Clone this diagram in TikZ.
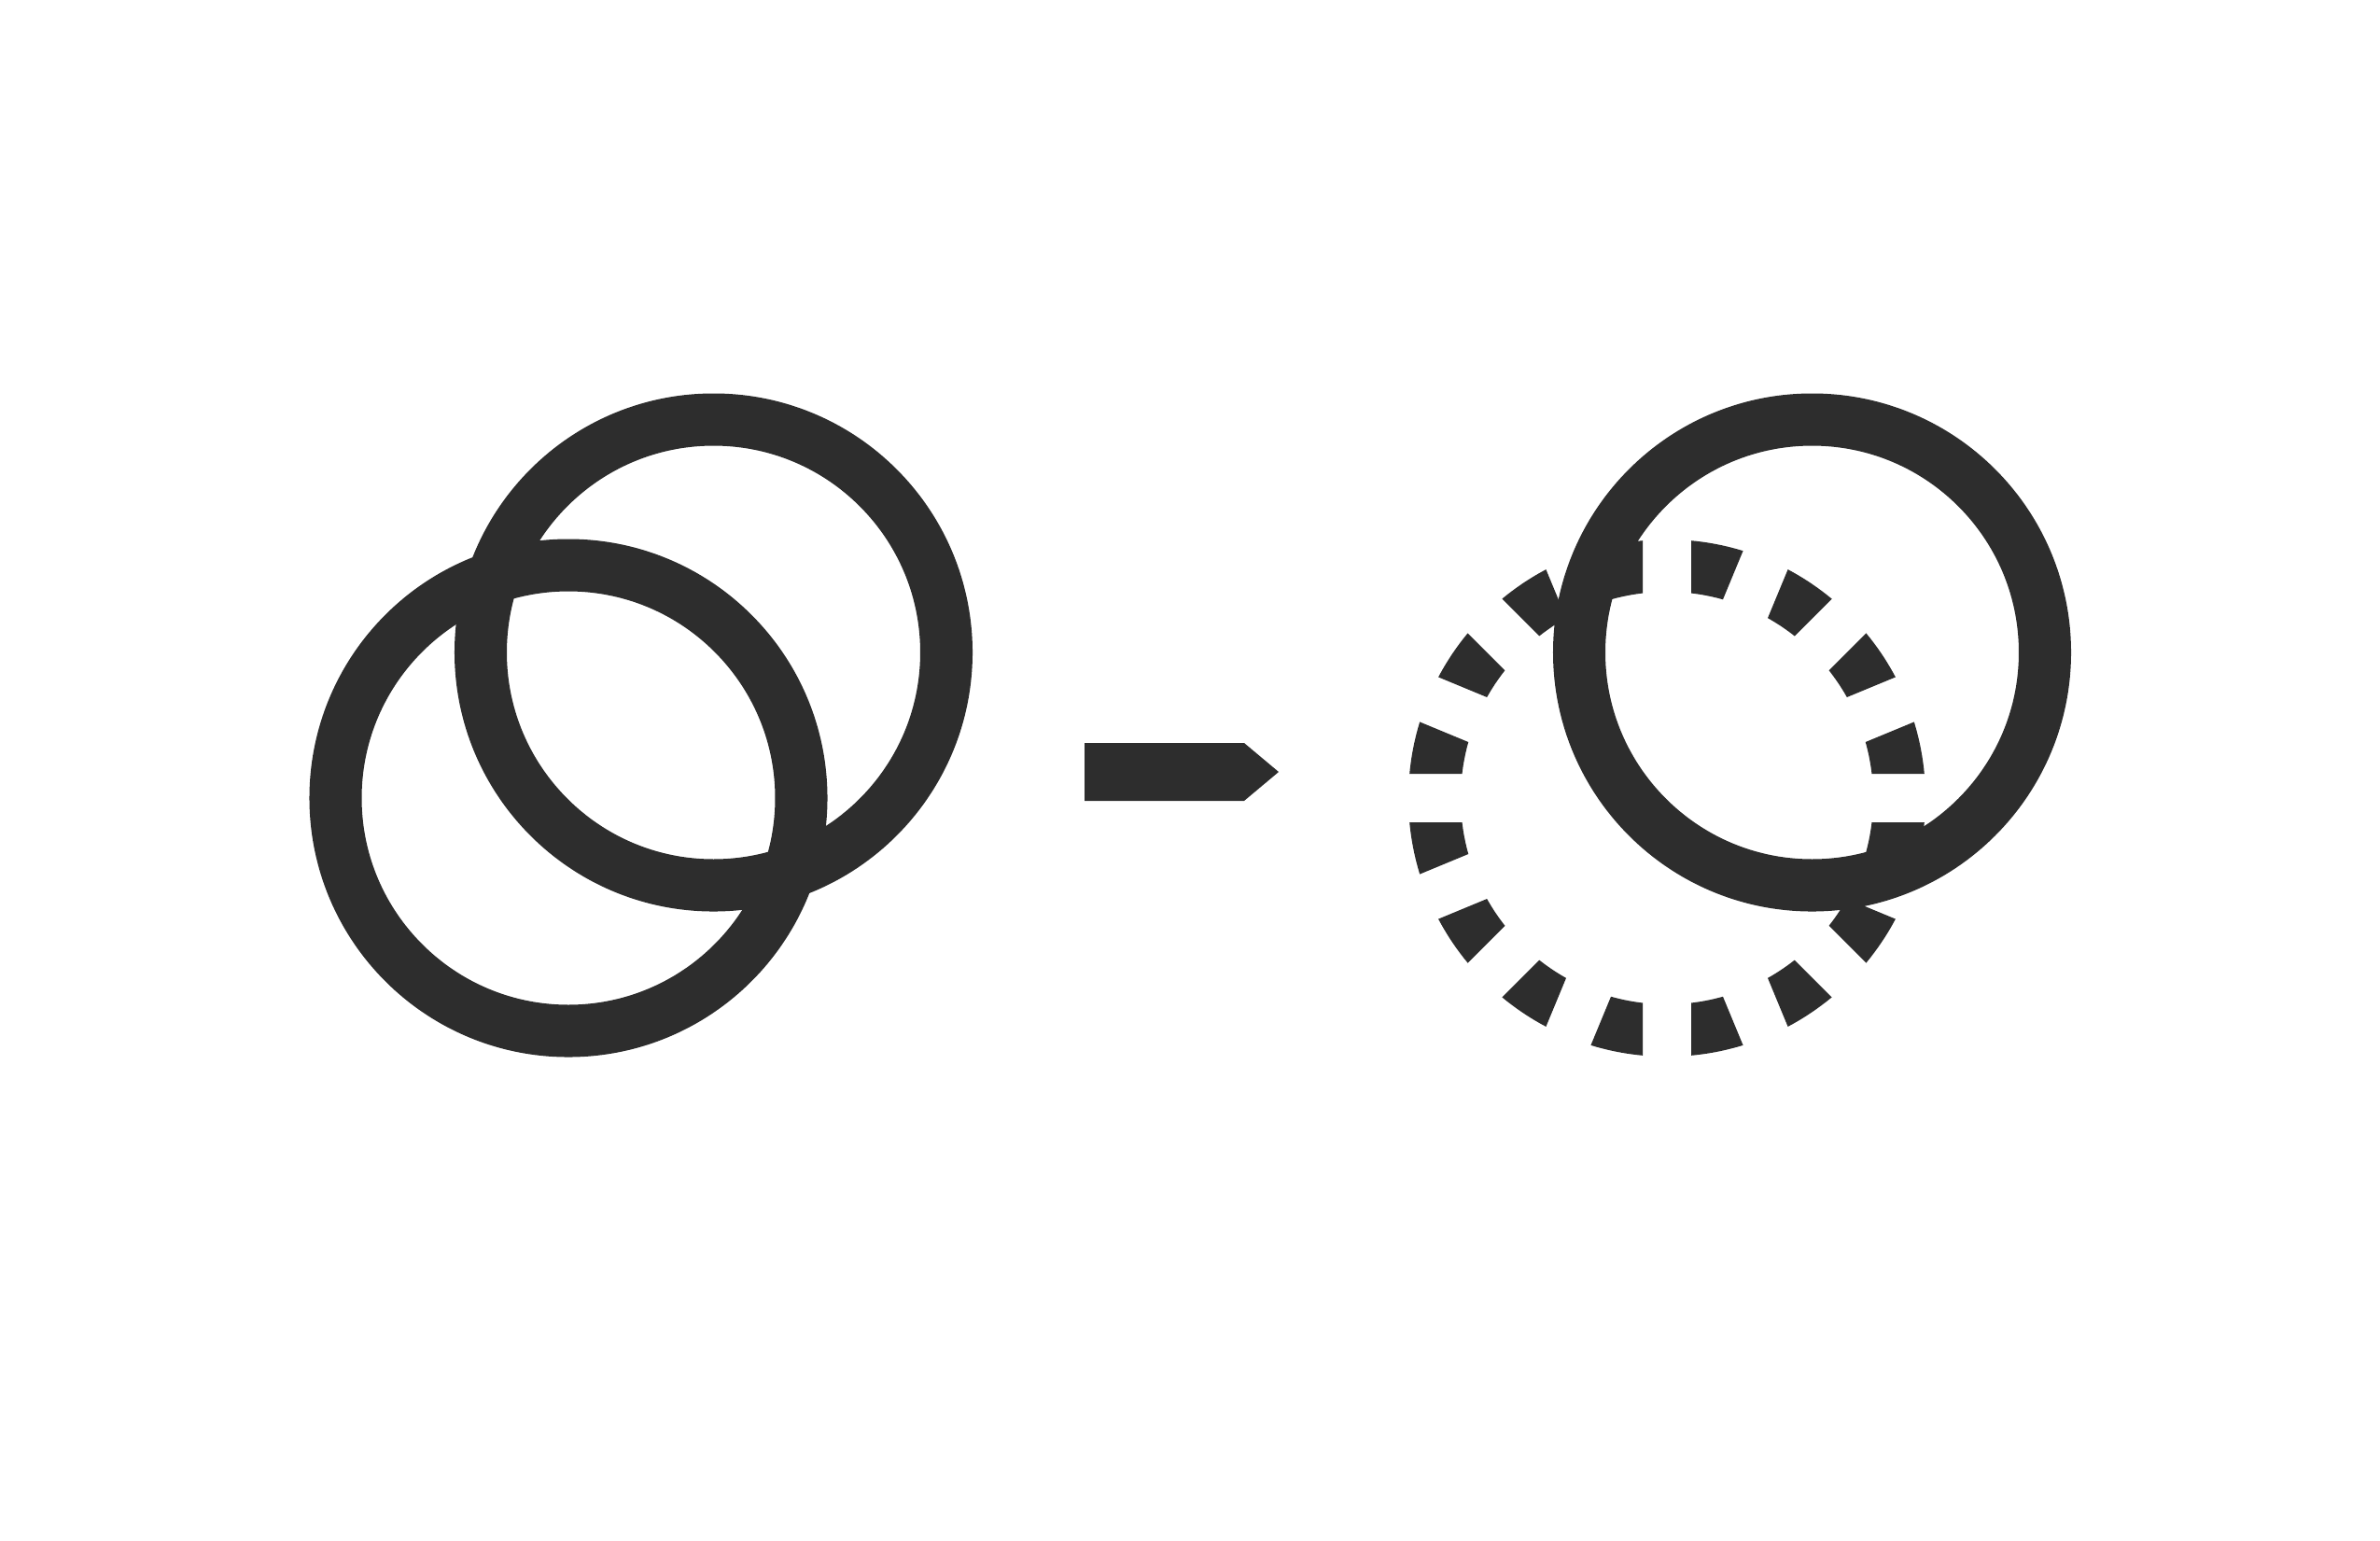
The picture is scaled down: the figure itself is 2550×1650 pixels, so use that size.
\documentclass[tikz,border=0pt]{standalone}
\usetikzlibrary{calc}
\definecolor{iconink}{RGB}{45,45,45}

\begin{document}
\begin{tikzpicture}[x=0.01cm, y=-0.01cm]
  \tikzset{
    ring/.style={draw=iconink, line width=0.56cm}
  }
  \useasboundingbox (0,0) rectangle (2550,1650);

  % Left: two overlapping rings
  \coordinate (cTop) at (764.5,699);
  \coordinate (cLow) at (609,855);
  \draw[ring] (cTop) circle[radius=249.5];
  \draw[ring] (cLow) circle[radius=249.5];

  % Arrow
  \fill[iconink] (1162,796) -- (1333,796) -- (1370,827) -- (1333,858) -- (1162,858) -- cycle;

  % Right: ring cut by 8 straight slots, under a solid ring
  \coordinate (cGhost) at (1786,855);
  \coordinate (cMoved) at (1941.5,699);
  \begin{scope}[even odd rule]
    \clip ($(cGhost)+(-320,-320)$) rectangle ($(cGhost)+(320,320)$)
      foreach \a in {0,22.5,...,157.5} {
        ($(cGhost)+(\a:320)+(\a+90:26)$) -- ($(cGhost)+(\a:320)+(\a-90:26)$)
        -- ($(cGhost)+(\a+180:320)+(\a-90:26)$) -- ($(cGhost)+(\a+180:320)+(\a+90:26)$) -- cycle
      };
    \draw[ring] (cGhost) circle[radius=249];
  \end{scope}
  \draw[ring] (cMoved) circle[radius=249.5];
\end{tikzpicture}
\end{document}
